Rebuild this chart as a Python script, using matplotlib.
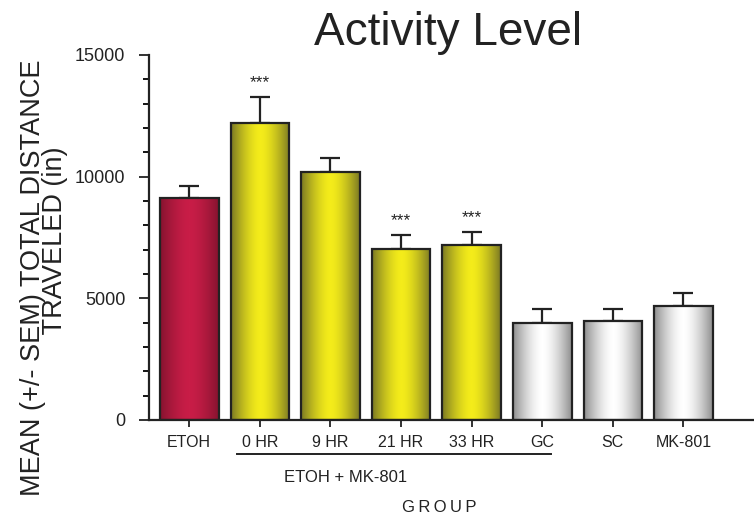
import numpy as np
import matplotlib
matplotlib.use("Agg")
import matplotlib.pyplot as plt
from matplotlib.colors import LinearSegmentedColormap

plt.rcParams["font.family"] = ["Liberation Sans", "DejaVu Sans"]

groups = ["ETOH", "0 HR", "9 HR", "21 HR", "33 HR", "GC", "SC", "MK-801"]
means = [9135, 12220, 10180, 7015, 7190, 4000, 4055, 4700]
sems = [495, 1070, 590, 585, 540, 575, 520, 530]
signif = ["", "***", "", "***", "***", "", "", ""]
bar_kind = ["red", "yellow", "yellow", "yellow", "yellow", "gray", "gray", "gray"]

# edge colour, centre colour for the horizontal shading
SHADES = {
    "red": ("#85132f", "#c81d47"),
    "yellow": ("#7a7824", "#f4ec1a"),
    "gray": ("#8e8e8e", "#ffffff"),
}

W, H = 754, 517
fig = plt.figure(figsize=(W / 100, H / 100), dpi=100)
ax = fig.add_axes([149 / W, 1 - 420 / H, 1 - 149 / W, 365 / H])

width = 0.83
x = np.arange(len(groups))
profile = np.linspace(-1, 1, 200)
profile = (1 - np.abs(profile) ** 1.6).reshape(1, -1)

for xi, m, s, kind in zip(x, means, sems, bar_kind):
    edge, centre = SHADES[kind]
    cmap = LinearSegmentedColormap.from_list(kind, [edge, centre])
    left = xi - width / 2
    ax.imshow(profile, cmap=cmap, aspect="auto", interpolation="bilinear",
              extent=(left, left + width, 0, m), zorder=2)
    ax.bar(xi, m, width=width, facecolor="none", edgecolor="#222222",
           linewidth=1.6, zorder=3)
    ax.errorbar(xi, m, yerr=[[0], [s]], fmt="none", ecolor="#222222",
                elinewidth=1.6, capsize=7.5, capthick=1.6, zorder=1)

for xi, m, s, star in zip(x, means, sems, signif):
    if star:
        ax.text(xi, m + s + 280, star, ha="center", va="bottom", fontsize=12.5,
                color="#222222")

ax.set_xlim(-0.57, 8.0)
ax.set_ylim(0, 15000)
ax.set_yticks([0, 5000, 10000, 15000])
ax.set_yticks(np.arange(0, 15001, 1000), minor=True)
ax.set_xticks(x)
ax.set_xticklabels(groups)
ax.tick_params(axis="both", colors="#222222", width=1.3)
ax.tick_params(axis="y", labelsize=13, length=7, pad=10)
ax.tick_params(axis="y", which="minor", length=4, width=1.3)
ax.tick_params(axis="x", labelsize=11.5, length=5, pad=6)

for side in ("top", "right"):
    ax.spines[side].set_visible(False)
for side in ("left", "bottom"):
    ax.spines[side].set_linewidth(1.6)
    ax.spines[side].set_color("#222222")

# two-line y label; leading spaces push the short line towards the top
ylabel = "MEAN (+/- SEM) TOTAL DISTANCE\n" + " " * 10 + "TRAVELED (in)"
fig.text(44 / W, 1 - 278 / H, ylabel, rotation=90, ha="center", va="center",
         multialignment="center", linespacing=0.8, fontsize=19.5,
         color="#222222")

# bracket under the ETOH + MK-801 groups
fig.add_artist(plt.Line2D([237 / W, 551 / W], [1 - 454 / H] * 2,
                          color="#222222", linewidth=1.4))
fig.text(346 / W, 1 - 478 / H, "ETOH + MK-801", ha="center", va="center",
         fontsize=12, color="#222222")
fig.text(439 / W, 1 - 508 / H, "G R O U P".replace(" ", "\u2009"),
         ha="center", va="center", fontsize=12, color="#222222")
fig.text(448 / W, 1 - 45 / H, "Activity Level", ha="center", va="baseline",
         fontsize=33, color="#222222")

fig.savefig("out.png", dpi=100)
